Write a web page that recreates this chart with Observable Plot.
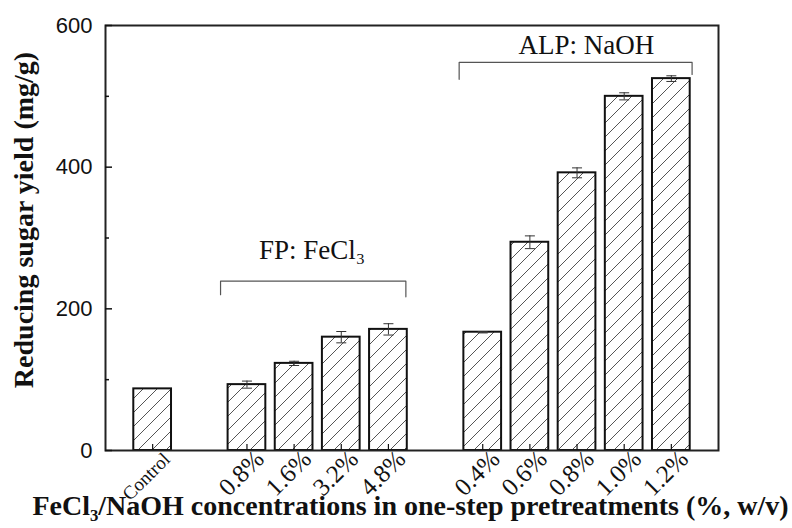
<!DOCTYPE html>
<html><head><meta charset="utf-8">
<script src="https://cdn.jsdelivr.net/npm/d3@7"></script>
<script src="https://cdn.jsdelivr.net/npm/@observablehq/plot@0.6"></script>
<style>
body{margin:0;background:#fff;}
</style></head><body><div id="chart"></div>
<script>
const categories = ["Control","0.8%","1.6%","3.2%","4.8%","0.4%","0.6%","0.8%","1.0%","1.2%"];
const slots = [0,2,3,4,5,7,8,9,10,11];
const yields = [87,93,123,160,171,167,294,392,500,525];
const errors = [0,5,3,8,8,1,9,7,5,4];
const yTicksMajor = [0,200,400,600];
const yTicksMinor = [100,300,500];
const bracketFP = [[1.44,220],[1.44,239],[5.37,239],[5.37,217]];
const bracketALP = [[6.5,524],[6.5,548],[11.44,548],[11.44,531]];
const groupLabels = [{text:"FP: FeCl\u2083", x:3.38, y:283},{text:"ALP: NaOH", x:9.2, y:572}];
const yTitle = ["Reducing sugar yield (mg/g)"];
const xTitle = ["FeCl\u2083/NaOH concentrations in one-step pretreatments (%, w/v)"];

const data = categories.map((c,i)=>({label:c, slot:slots[i], value:yields[i], err:errors[i]}));
const withErr = data.filter(d=>d.err>0);
const cap = {draw(ctx, size){ const w = Math.sqrt(size/Math.PI); ctx.moveTo(-w,0); ctx.lineTo(w,0); }};
const serif = "Liberation Serif, Times New Roman, serif";

const chart = Plot.plot({
  width: 792, height: 528,
  marginLeft: 105, marginRight: 74, marginTop: 25, marginBottom: 78,
  style: {background:"white", color:"#111", fontFamily:"Liberation Sans, Arial, sans-serif"},
  x: {domain:[-1,12]},
  y: {domain:[0,600]},
  marks: [
    Plot.rectY(data, {x1: d=>d.slot-0.4, x2: d=>d.slot+0.4, y: "value", fill:"url(#hatch)", stroke:"#111", strokeWidth:2}),
    Plot.ruleX(withErr, {x:"slot", y1: d=>d.value-d.err, y2: d=>d.value+d.err, stroke:"#333", strokeWidth:1}),
    Plot.dot(withErr, {x:"slot", y: d=>d.value+d.err, symbol: cap, r:5, stroke:"#333", strokeWidth:1}),
    Plot.dot(withErr, {x:"slot", y: d=>d.value-d.err, symbol: cap, r:5, stroke:"#333", strokeWidth:1}),
    Plot.line(bracketFP, {stroke:"#555", strokeWidth:1.2}),
    Plot.line(bracketALP, {stroke:"#555", strokeWidth:1.2}),
    Plot.text(groupLabels, {x:"x", y:"y", text:"text", fontSize:27, fontFamily:serif, fill:"#111"}),
    Plot.frame({stroke:"#222", strokeWidth:2}),
    Plot.axisY(yTicksMajor, {tickSize:-7, tickPadding:20, fontSize:22, strokeWidth:1.5}),
    Plot.axisY(yTicksMinor, {tickSize:-4, tickFormat: ()=>"", strokeWidth:1.5}),
    Plot.axisX(slots, {tickSize:-6, tickFormat: ()=>"", strokeWidth:1.2}),
    Plot.text(data, {x:"slot", frameAnchor:"bottom", text:"label", rotate:-45, textAnchor:"end", dx:18.5, dy:10,
      fontSize: d=> d.label==="Control" ? 19 : 25, fontFamily:serif, fill:"#111"}),
    Plot.text(yTitle, {frameAnchor:"left", textAnchor:"middle", rotate:-90, dx:-81, dy:-18, fontWeight:"bold", fontSize:28, fontFamily:serif, fill:"#111"}),
    Plot.text(xTitle, {frameAnchor:"bottom", textAnchor:"middle", dx:-1.5, dy:64, fontWeight:"bold", fontSize:28, fontFamily:serif, fill:"#111"})
  ]
});
d3.select(chart).insert("defs", ":first-child").html(
  `<pattern id="hatch" patternUnits="userSpaceOnUse" width="14" height="14">
     <rect width="14" height="14" fill="white"/>
     <path d="M-3.5,3.5 L3.5,-3.5 M0,14 L14,0 M10.5,17.5 L17.5,10.5" stroke="#555" stroke-width="1"/>
   </pattern>`);
document.getElementById("chart").appendChild(chart);
</script></body></html>
